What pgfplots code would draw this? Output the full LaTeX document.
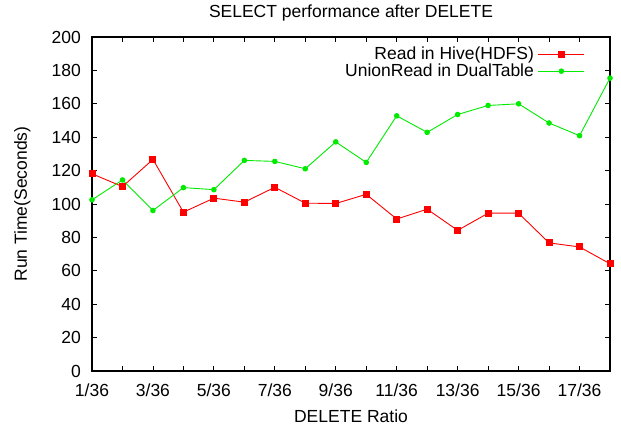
\documentclass[border=0pt]{standalone}
\usepackage{fontspec}
\setmainfont{Liberation Sans}
\usepackage{pgfplots}
\pgfplotsset{compat=1.18}
\definecolor{gpred}{RGB}{255,0,0}
\definecolor{gpgreen}{RGB}{0,235,0}

\begin{document}
\fontsize{17.5}{20}\selectfont
\begin{tikzpicture}
\begin{axis}[
  name=ax,
  scale only axis,
  width=518pt, height=334pt,
  xmin=1, xmax=18, ymin=0, ymax=200,
  xtick={1,...,18},
  xticklabels={1/36,,3/36,,5/36,,7/36,,9/36,,11/36,,13/36,,15/36,,17/36,},
  ytick={0,20,...,200},
  tick align=inside,
  major tick length=5pt,
  axis line style={line width=1.3pt},
  tick style={black, line width=0.8pt},
  /pgf/number format/assume math mode=true,
  ticklabel style={font=\fontsize{17.5}{20}\selectfont},
  xticklabel style={anchor=base, yshift=-26pt},
  yticklabel style={anchor=east, inner sep=0pt, xshift=-11pt},
  title={SELECT performance after DELETE},
  every axis title/.style={at={([yshift=19pt]axis description cs:0.5,1)}, anchor=base, font=\fontsize{17.5}{20}\selectfont},
  xlabel={DELETE Ratio},
  every axis x label/.style={at={([yshift=-52pt]axis description cs:0.5,0)}, anchor=base, font=\fontsize{17.5}{20}\selectfont},
  ylabel={Run Time(Seconds)},
  every axis y label/.style={at={([xshift=-65pt]axis description cs:0,0.5)}, anchor=base, rotate=90, font=\fontsize{17.5}{20}\selectfont},
  legend style={at={([xshift=-22pt,yshift=-6pt]axis description cs:1,1)}, anchor=north east,
    draw=none, fill=none, font=\fontsize{17.5}{20}\selectfont, row sep=-3pt, column sep=2pt},
  legend cell align=right,
  legend plot pos=right,
  legend image code/.code={\draw[mark repeat=2,mark phase=2,#1] plot coordinates {(0pt,0pt) (23pt,0pt) (46pt,0pt)};},
  clip=false,
]
\addplot[draw=gpred, line width=0.9pt, mark=square*, mark size=3pt, mark options={fill=gpred, draw=gpred}] coordinates {
(1,118.1) (2,110.4) (3,126.7) (4,95.1) (5,103.5) (6,101.1) (7,110.0) (8,100.5) (9,100.3)
(10,105.8) (11,91.0) (12,96.9) (13,84.2) (14,94.5) (15,94.5) (16,76.7) (17,74.3) (18,64.2)};
\addlegendentry{Read in Hive(HDFS)}
\addplot[draw=gpgreen, line width=0.9pt, mark=*, mark size=2.3pt, mark options={fill=gpgreen, draw=gpgreen}] coordinates {
(1,102.5) (2,114.4) (3,96.1) (4,109.8) (5,108.6) (6,126.1) (7,125.5) (8,121.1) (9,137.2)
(10,124.9) (11,152.8) (12,142.9) (13,153.6) (14,159.0) (15,160.0) (16,148.5) (17,140.9) (18,175.4)};
\addlegendentry{UnionRead in DualTable}
\end{axis}
\pgfresetboundingbox
\path[use as bounding box] ([shift={(-92pt,-62pt)}]ax.south west) rectangle ([shift={(11pt,37pt)}]ax.north east);
\end{tikzpicture}
\end{document}
